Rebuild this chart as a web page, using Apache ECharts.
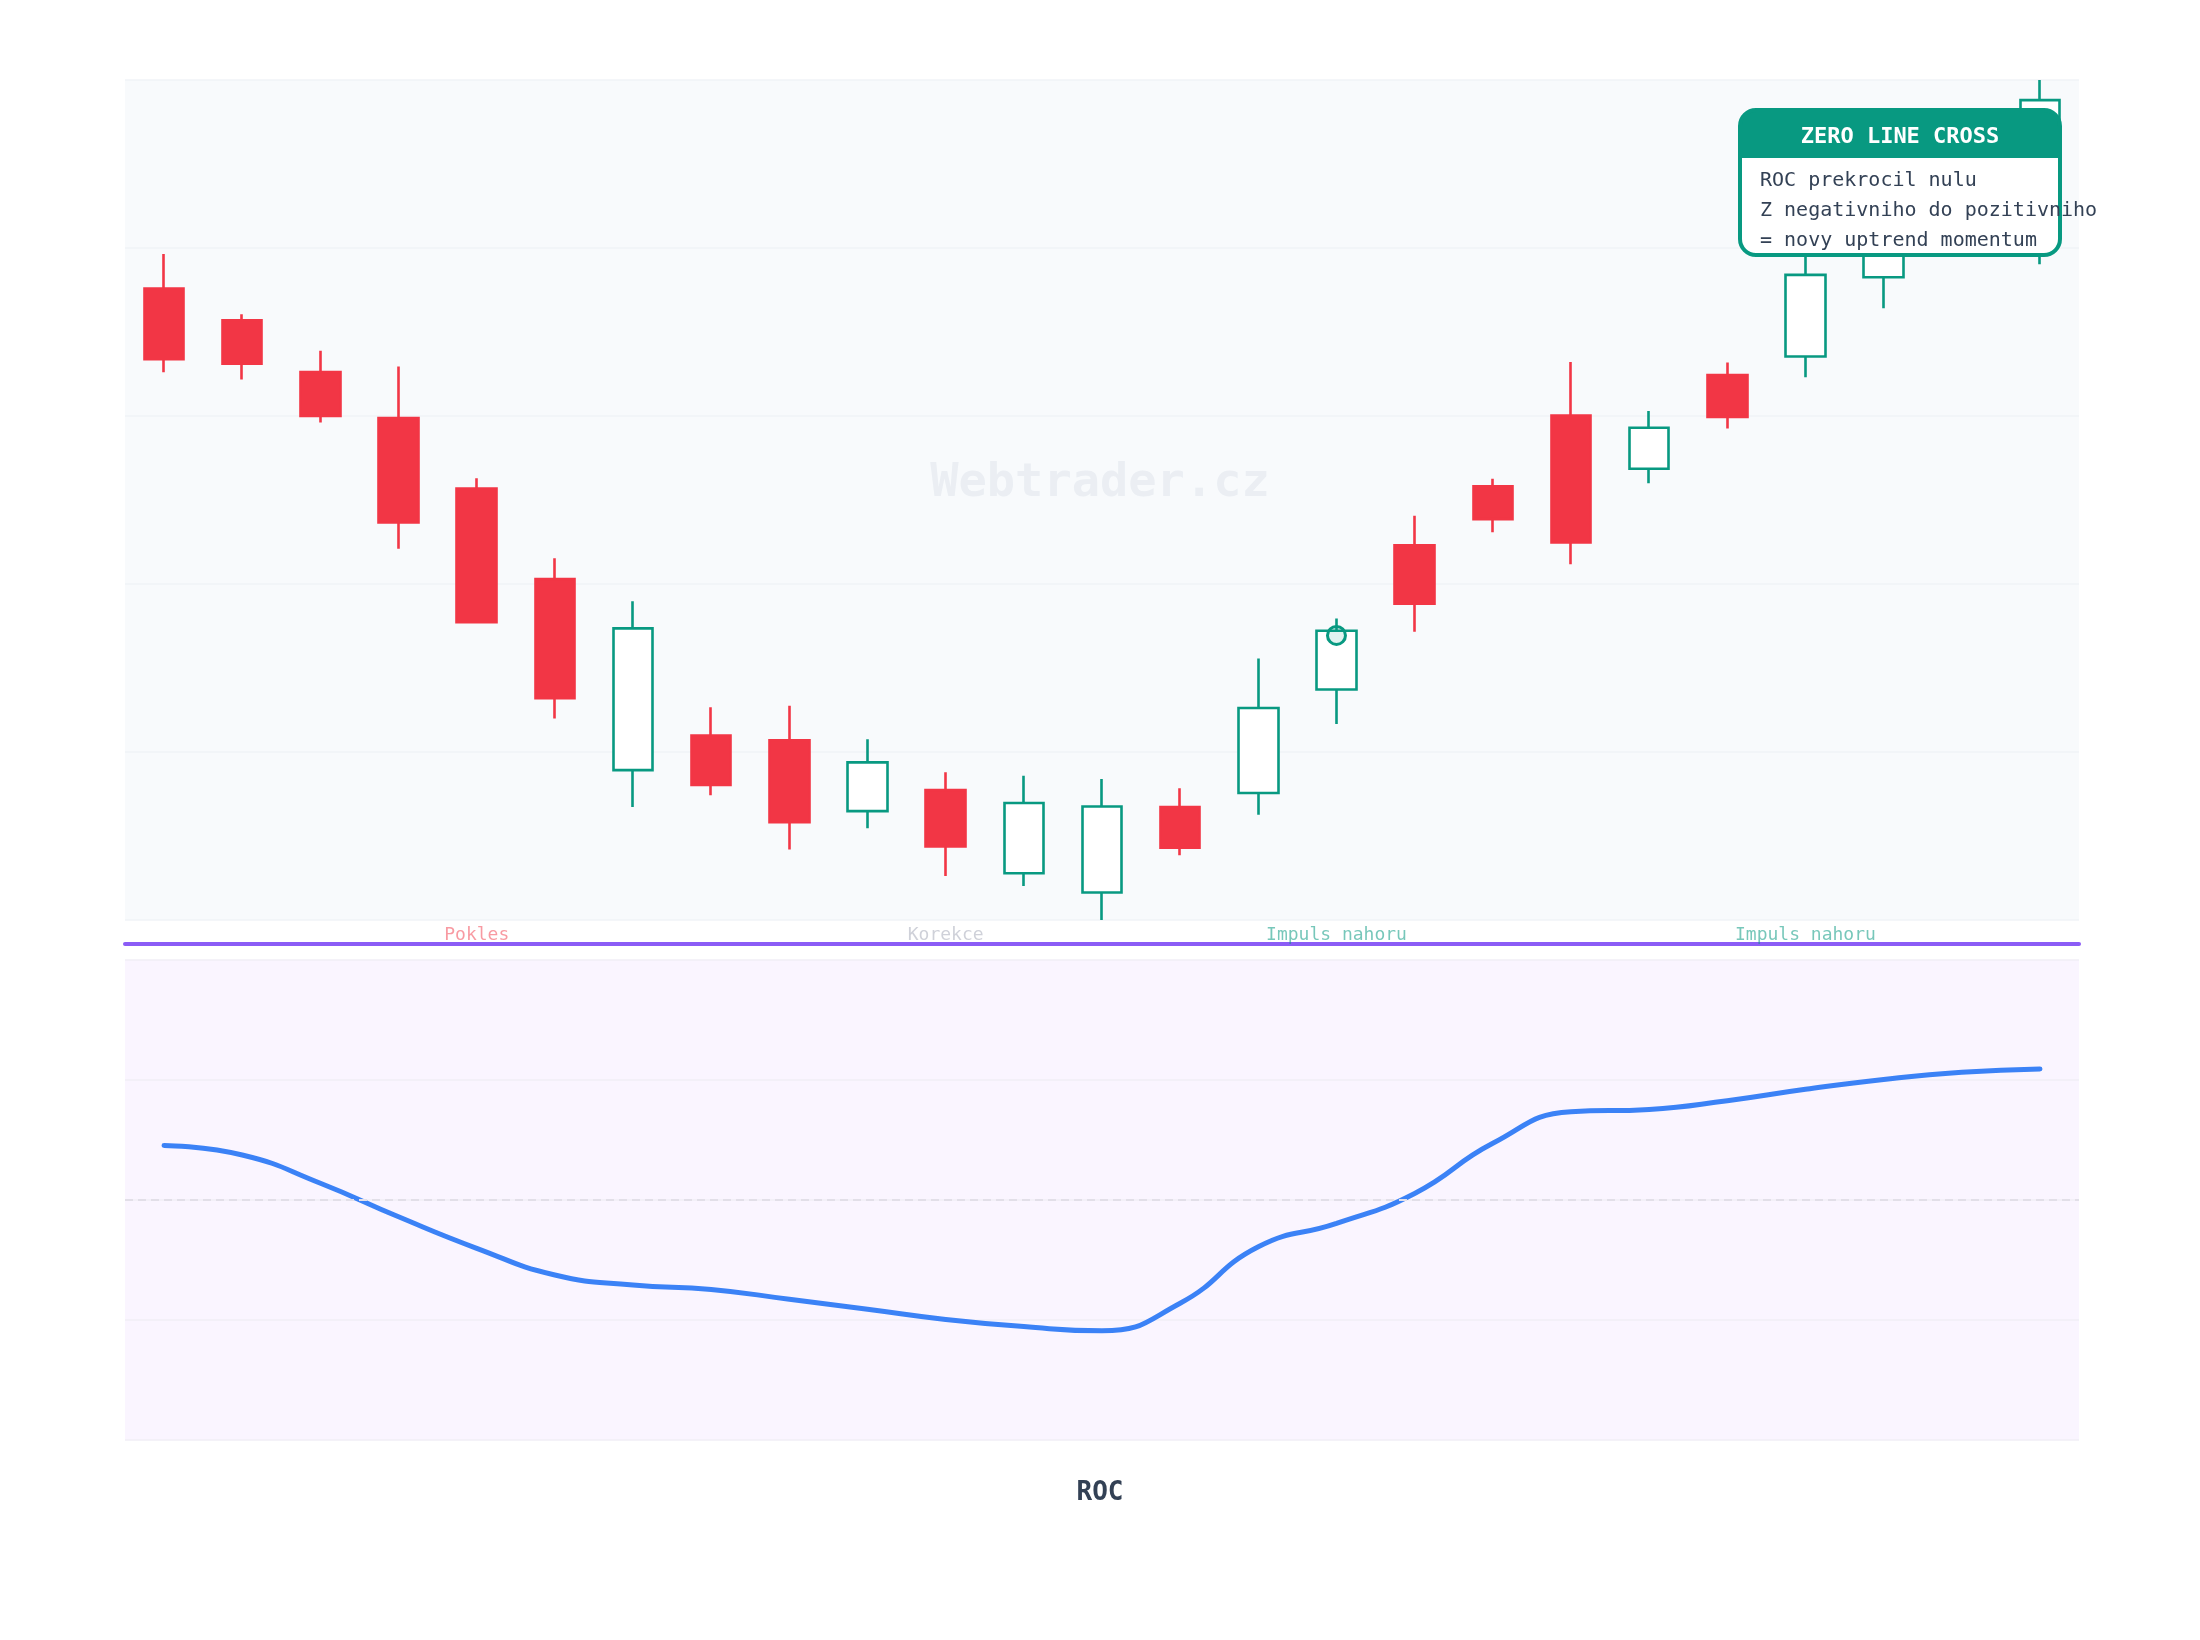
<!DOCTYPE html>
<html>
<head>
<meta charset="utf-8">
<script src="https://cdn.jsdelivr.net/npm/echarts@6/dist/echarts.min.js"></script>
<style>
  html, body { margin: 0; padding: 0; background: #ffffff; }
  #chart { width: 2200px; height: 1640px; }
</style>
</head>
<body>
<div id="chart"></div>
<script>
// dny (kategorie)
const days = ['1', '2', '3', '4', '5', '6', '7', '8', '9', '10', '11', '12', '13',
  '14', '15', '16', '17', '18', '19', '20', '21', '22', '23', '24', '25'];
// OHLC
const opens  = [108.79, 107.85, 106.31, 104.94, 102.84, 100.15, 94.46, 95.49, 95.35, 93.24, 93.87, 91.39, 90.82,
  93.36, 93.78, 96.86, 101.15, 102.91, 105.01, 103.43, 106.22, 106.77, 109.13, 110.54, 112.00];
const closes = [106.69, 106.56, 105.00, 101.83, 98.86, 96.60, 98.68, 94.02, 92.91, 94.69, 92.19, 93.48, 93.38,
  92.15, 96.31, 98.61, 99.41, 101.93, 101.24, 104.65, 104.97, 109.20, 110.98, 112.92, 114.40];
const lows   = [106.30, 106.09, 104.81, 101.05, 98.84, 96.00, 93.36, 93.71, 92.10, 92.73, 91.31, 91.01, 90.00,
  91.93, 93.13, 95.83, 98.58, 101.54, 100.59, 103.00, 104.63, 106.15, 108.21, 110.09, 109.52];
const highs  = [109.82, 108.03, 106.94, 106.47, 103.15, 100.77, 99.49, 96.33, 96.38, 95.38, 94.40, 94.29, 94.20,
  93.92, 97.78, 98.97, 102.03, 103.13, 106.61, 105.15, 106.59, 110.24, 111.73, 113.51, 115.00];
// ROC (%)
const roc = [1.82, 1.50, 0.56, -0.56, -1.61, -2.50, -2.83, -2.98, -3.31, -3.64, -3.98, -4.22, -4.36,
  -3.44, -1.56, -0.78, 0.22, 1.89, 2.94, 3.02, 3.31, 3.69, 4.02, 4.26, 4.37];
// popisky fazi pod svickami
const phaseLabels = { 4: ['Pokles', 'down'], 10: ['Korekce', 'flat'], 15: ['Impuls nahoru', 'up'], 21: ['Impuls nahoru', 'up'] };
// bod prekroceni nuly
const crossIndex = 15;
const crossPrice = 98.47;

const GREEN = '#089981';
const RED = '#f23645';
const MONO = '"DejaVu Sans Mono", monospace';

const candleData = days.map((d, i) => [opens[i], closes[i], lows[i], highs[i]]);

const myChart = echarts.init(document.getElementById('chart'));

const option = {
  animation: false,
  backgroundColor: '#ffffff',
  title: {
    text: 'ROC',
    left: 'center',
    top: 1480,
    padding: 0,
    textStyle: { fontFamily: MONO, fontSize: 26, fontWeight: 'bold', color: '#334155' },
  },
  grid: [
    { left: 125, right: 121, top: 80, height: 840, show: true, backgroundColor: '#f8fafc', borderWidth: 0 },
    { left: 125, right: 121, top: 960, height: 480, show: true, backgroundColor: '#faf5ff', borderWidth: 0 },
  ],
  xAxis: [
    {
      type: 'category',
      gridIndex: 0,
      data: days,
      boundaryGap: true,
      axisLine: { show: false },
      axisTick: { show: false },
      axisLabel: {
        interval: 0,
        margin: 6,
        fontFamily: MONO,
        fontSize: 18,
        formatter: (value, index) => {
          const p = phaseLabels[index];
          return p ? '{' + p[1] + '|' + p[0] + '}' : '';
        },
        rich: {
          down: { color: 'rgba(242,54,69,0.5)', fontFamily: MONO, fontSize: 18 },
          flat: { color: 'rgba(148,152,170,0.45)', fontFamily: MONO, fontSize: 18 },
          up: { color: 'rgba(8,153,129,0.55)', fontFamily: MONO, fontSize: 18 },
        },
      },
      splitLine: { show: false },
    },
    {
      type: 'category',
      gridIndex: 1,
      data: days,
      boundaryGap: true,
      position: 'top',
      offset: 16,
      axisLine: { show: true, onZero: false, lineStyle: { color: '#8b5cf6', width: 4 } },
      axisTick: { show: false },
      axisLabel: { show: false },
      splitLine: { show: false },
    },
  ],
  yAxis: [
    {
      type: 'value',
      gridIndex: 0,
      min: 90,
      max: 115,
      interval: 5,
      axisLine: { show: false },
      axisTick: { show: false },
      axisLabel: { show: false },
      splitLine: { lineStyle: { color: '#f1f3f7', width: 1.5 } },
    },
    {
      type: 'value',
      gridIndex: 1,
      min: -8,
      max: 8,
      interval: 4,
      axisLine: { show: false },
      axisTick: { show: false },
      axisLabel: { show: false },
      splitLine: { lineStyle: { color: '#f1eef6', width: 1.5 } },
    },
  ],
  series: [
    {
      name: 'Cena',
      type: 'candlestick',
      xAxisIndex: 0,
      yAxisIndex: 0,
      data: candleData,
      barWidth: 40,
      itemStyle: {
        color: '#ffffff',
        borderColor: GREEN,
        color0: RED,
        borderColor0: RED,
        borderWidth: 2.6,
      },
      markPoint: {
        symbol: 'circle',
        symbolSize: 18,
        label: { show: false },
        itemStyle: { color: 'rgba(8,153,129,0.12)', borderColor: GREEN, borderWidth: 3 },
        data: [{ coord: [crossIndex, crossPrice] }],
      },
    },
    {
      name: 'ROC',
      type: 'line',
      xAxisIndex: 1,
      yAxisIndex: 1,
      data: roc,
      smooth: true,
      symbol: 'none',
      lineStyle: { color: '#3b82f6', width: 5, cap: 'round' },
      markLine: {
        silent: true,
        symbol: 'none',
        label: { show: false },
        lineStyle: { color: '#e2dfe8', type: [8, 5], width: 2 },
        data: [{ yAxis: 0 }],
      },
    },
  ],
  graphic: [
    {
      type: 'text',
      left: 'center',
      top: 460,
      z: 1,
      style: {
        text: 'Webtrader.cz',
        font: 'bold 47px "DejaVu Sans Mono", monospace',
        fill: 'rgba(148,163,184,0.13)',
      },
    },
    {
      type: 'group',
      z: 100,
      children: [
        {
          type: 'rect',
          z: 100,
          shape: { x: 1740, y: 110, width: 320, height: 145, r: 16 },
          style: { fill: '#ffffff' },
        },
        {
          type: 'rect',
          z: 101,
          shape: { x: 1740, y: 110, width: 320, height: 48, r: [16, 16, 0, 0] },
          style: { fill: GREEN },
        },
        {
          type: 'rect',
          z: 102,
          shape: { x: 1740, y: 110, width: 320, height: 145, r: 16 },
          style: { fill: 'none', stroke: GREEN, lineWidth: 4 },
        },
        {
          type: 'text',
          z: 103,
          x: 1900,
          y: 137,
          style: {
            text: 'ZERO LINE CROSS',
            font: 'bold 22px "DejaVu Sans Mono", monospace',
            fill: '#ffffff',
            align: 'center',
            verticalAlign: 'middle',
          },
        },
        {
          type: 'text',
          z: 103,
          x: 1760,
          y: 181,
          style: { text: 'ROC prekrocil nulu', font: '20px "DejaVu Sans Mono", monospace', fill: '#334155', verticalAlign: 'middle' },
        },
        {
          type: 'text',
          z: 103,
          x: 1760,
          y: 211,
          style: { text: 'Z negativniho do pozitivniho', font: '20px "DejaVu Sans Mono", monospace', fill: '#334155', verticalAlign: 'middle' },
        },
        {
          type: 'text',
          z: 103,
          x: 1760,
          y: 241,
          style: { text: '= novy uptrend momentum', font: '20px "DejaVu Sans Mono", monospace', fill: '#334155', verticalAlign: 'middle' },
        },
      ],
    },
  ],
};

myChart.setOption(option);
</script>
</body>
</html>
